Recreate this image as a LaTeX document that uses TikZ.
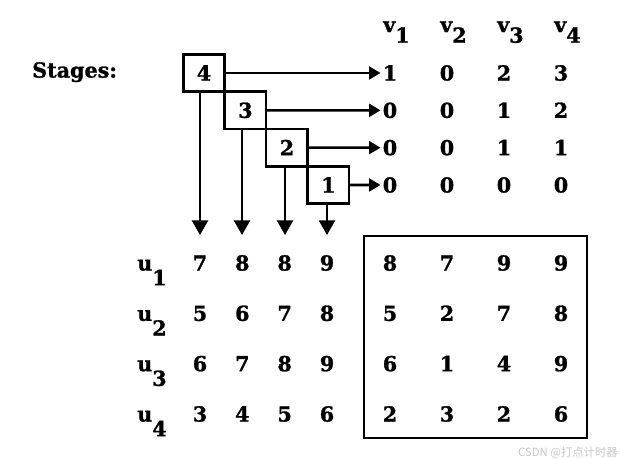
\documentclass[tikz,border=0pt]{standalone}
\usepackage{fontspec}
\setmainfont{DejaVu Serif}[BoldFeatures={FakeBold=1.2}]
\newfontfamily\cjk{Noto Sans CJK SC}
\usetikzlibrary{arrows.meta,positioning}
\newcommand\drop[2]{\raisebox{-#1}{#2}}

\begin{document}
\begin{tikzpicture}[x=0.75pt, y=-0.75pt,
    every node/.style={font=\bfseries\fontsize{15.5}{18}\selectfont,
      text height=11.3pt, text depth=0pt, inner sep=1.5pt},
    stage/.style={draw, line width=1.9pt, outer sep=0pt, inner sep=0pt,
      minimum width=31.1pt, minimum height=28pt},
    harr/.style={line width=1.9pt, -{Triangle[length=8.5pt,width=9.5pt]}},
    varr/.style={line width=1.9pt, -{Triangle[length=11pt,width=12pt]}},
    frame/.style={line width=2pt}]
  \useasboundingbox (0,0) rectangle (624,459);

  \node[anchor=west] (stages) at (30,70) {Stages:};

  % stage boxes, corner to corner
  \node[stage] (s4) at (204,73) {4};
  \node[stage, below right=0pt of s4] (s3) {3};
  \node[stage, below right=0pt of s3] (s2) {2};
  \node[stage, below right=0pt of s2] (s1) {1};

  % v values
  \foreach \c in {1,...,4}
    \node[anchor=west] (v\c) at ({324+57*\c}, 24.5) {v\drop{8pt}{\c}};
  \foreach \vals [count=\r] in {{1,0,2,3},{0,0,1,2},{0,0,1,1},{0,0,0,0}}
    \foreach \v [count=\c] in \vals
      \node (t\r\c) at ({333+57*\c}, {35.67+37.33*\r}) {\v};

  \draw[harr] (s4) -- (t11);
  \draw[harr] (s3) -- (t21);
  \draw[harr] (s2) -- (t31);
  \draw[harr] (s1) -- (t41);

  % arrow ends above the u rows
  \coordinate (d1) at (200,235);
  \coordinate (d2) at (242,235);
  \coordinate (d3) at (285,235);
  \coordinate (d4) at (327,235);
  \draw[varr] (s4.south -| d1) -- (d1);
  \draw[varr] (s3.south -| d2) -- (d2);
  \draw[varr] (s2.south -| d3) -- (d3);
  \draw[varr] (s1.south -| d4) -- (d4);

  % u values
  \foreach \r in {1,...,4}
    \node[anchor=west] (u\r) at (135, {212.67+50.33*\r}) {u\drop{11pt}{\r}};
  \foreach \vals [count=\r] in {{7,8,8,9},{5,6,7,8},{6,7,8,9},{3,4,5,6}}
    \foreach \v [count=\c] in \vals
      \node (m\r\c) at ({157.67+42.33*\c}, {212.67+50.33*\r}) {\v};

  % boxed table
  \draw[frame] (364,236) rectangle (587,438);
  \foreach \vals [count=\r] in {{8,7,9,9},{5,2,7,8},{6,1,4,9},{2,3,2,6}}
    \foreach \v [count=\c] in \vals
      \node (b\r\c) at ({333+57*\c}, {212.67+50.33*\r}) {\v};

  \node[anchor=east, text=gray!45, font=\cjk\fontsize{8.5}{10}\selectfont]
    (mark) at (620,449) {CSDN @打点计时器};
\end{tikzpicture}
\end{document}
